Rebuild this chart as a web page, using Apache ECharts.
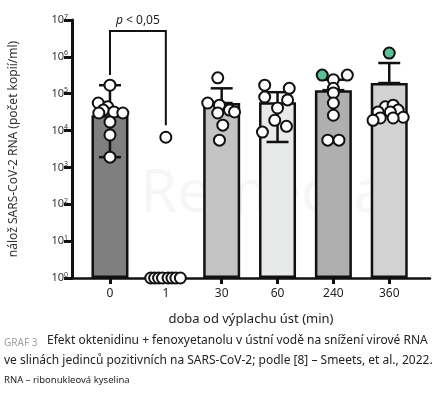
<!DOCTYPE html>
<html><head><meta charset="utf-8">
<script src="https://cdn.jsdelivr.net/npm/echarts@6/dist/echarts.min.js"></script>
<style>html,body{margin:0;padding:0;background:#fff}#c{width:435px;height:393px}</style>
</head><body><div id="c"></div>
<script>
var categories = ['0', '1', '30', '60', '240', '360'];
var barValues = [2.6e4, null, 5.6e4, 5.9e4, 1.25e5, 1.95e5];
var errLow = [1.9e3, null, 5.6e4, 4.9e3, 1.25e5, 1.95e5];
var errHigh = [1.7e5, null, 1.4e5, 1.1e5, 2.4e5, 6.8e5];
var points0 = [1.7e5, 5.6e4, 4.4e4, 3.6e4, 3.2e4, 3.0e4, 3.0e4, 1.7e4, 7.6e3, 1.9e3];
var jitter0 = [0, -0.21, -0.04, -0.12, 0.07, 0.23, -0.2, 0, 0, 0];
var points1 = [1, 1, 1, 1, 1, 1, 1, 1, 6.6e3];
var jitter1 = [-0.27, -0.2, -0.13, -0.06, 0.04, 0.11, 0.18, 0.26, 0];
var points30 = [2.7e5, 5.6e4, 4.9e4, 3.6e4, 3.0e4, 3.2e4, 1.4e4, 5.5e3];
var jitter30 = [-0.07, -0.25, -0.04, 0.14, -0.07, 0.23, 0.02, -0.04];
var points60 = [1.7e5, 1.4e5, 8.1e4, 6.8e4, 4.1e4, 1.9e4, 1.3e4, 9.1e3];
var jitter60 = [-0.23, 0.21, -0.23, 0.18, 0, -0.05, 0.16, -0.27];
var points240 = [3.2e5, 2.4e5, 1.4e5, 1.05e5, 5.6e4, 2.6e4, 5.5e3, 5.5e3];
var jitter240 = [0.25, 0, 0, 0, 0, 0, -0.1, 0.1];
var points360 = [4.4e4, 4.9e4, 3.6e4, 3.2e4, 3.2e4, 2.3e4, 2.2e4, 2.2e4, 1.9e4];
var jitter360 = [-0.07, 0.07, 0.16, -0.2, 0.02, 0.25, -0.16, 0.07, -0.29];
var greenPoints = [[4, 3.2e5], [5, 1.27e6]];
var greenJitter = [-0.2, 0];
var bracketLegs = [3.2e5, 5e6, 1.4e4];
var pText = ' < 0,05';
var yTicks = [1, 10, 100, 1e3, 1e4, 1e5, 1e6, 1e7];
var yName = 'nálož SARS-CoV-2 RNA (počet kopií/ml)';
var xName = 'doba od výplachu úst (min)';
var captionLabel = 'GRAF 3';
var captionLine1 = 'Efekt oktenidinu + fenoxyetanolu v ústní vodě na snížení virové RNA';
var captionLine2 = 've slinách jedinců pozitivních na SARS-CoV-2; podle [8] – Smeets, et al., 2022.';
var captionLine3 = 'RNA – ribonukleová kyselina';
var watermark = 'Remedia';

var barColors = ['#7f7f7f', '#ffffff', '#c3c3c3', '#e8e9e9', '#afafaf', '#d2d2d2'];
var FONT = 'Noto Sans';
var X0 = 0.68;   // left padding of the category scale, so the value axis starts at 0
var XMAX = 6.41;

var allPts = [points0, points1, points30, points60, points240, points360];
var allJit = [jitter0, jitter1, jitter30, jitter60, jitter240, jitter360];
var whitePts = [];
allPts.forEach(function (arr, ci) {
  arr.forEach(function (v, k) { whitePts.push([X0 + ci + allJit[ci][k], v]); });
});
var greenData = greenPoints.map(function (p, i) { return [X0 + p[0] + greenJitter[i], p[1]]; });

var barData = [];
categories.forEach(function (c, i) { if (barValues[i] != null) barData.push({ value: [X0 + i, barValues[i]], itemStyle: { color: barColors[i] } }); });
var errData = [];
categories.forEach(function (c, i) { if (errHigh[i] != null) errData.push([X0 + i, errLow[i], errHigh[i]]); });
var catPos = categories.map(function (c, i) { return X0 + i; });

var chart = echarts.init(document.getElementById('c'), null, { renderer: 'canvas' });
chart.setOption({
  animation: false,
  backgroundColor: '#fff',
  textStyle: { fontFamily: FONT },
  grid: { left: 71, right: 5, top: 20, bottom: 115, containLabel: false },
  xAxis: {
    type: 'value', min: 0, max: XMAX,
    name: xName, nameLocation: 'middle', nameGap: 35,
    nameTextStyle: { fontSize: 13, color: '#222', fontFamily: FONT },
    axisLine: { show: true, lineStyle: { color: '#111', width: 2.5 } },
    axisTick: { show: true, length: 6, lineStyle: { color: '#111', width: 3 }, customValues: catPos },
    axisLabel: { customValues: catPos, formatter: function (v) { return categories[Math.round(v - X0)]; }, fontSize: 12, color: '#222', margin: 10 },
    splitLine: { show: false }
  },
  yAxis: {
    type: 'log', logBase: 10, min: 1, max: 1e7, position: 'left',
    name: yName, nameLocation: 'middle', nameGap: 52, nameRotate: 90,
    nameTextStyle: { fontSize: 12, color: '#333', fontFamily: FONT },
    axisLine: { show: true, lineStyle: { color: '#111', width: 3 } },
    axisTick: { show: true, length: 8, lineStyle: { color: '#111', width: 3 }, customValues: yTicks },
    axisLabel: {
      customValues: yTicks, margin: 4,
      formatter: function (v) { return '{b|10}{s|' + Math.round(Math.log10(v)) + '}'; },
      rich: {
        b: { fontSize: 11, color: '#333', fontFamily: FONT },
        s: { fontSize: 7, color: '#333', fontFamily: FONT, padding: [0, 0, 7, 0] }
      }
    },
    splitLine: { show: false }
  },
  graphic: [
    { type: 'text', left: 140, top: 165, z: 0, silent: true, style: { text: watermark, fontSize: 60, fontFamily: FONT, fill: 'rgba(0,0,0,0.035)' } },
    { type: 'text', left: 4, top: 338, style: { text: captionLabel, fontSize: 10, fill: '#a0a0a0', fontFamily: FONT } },
    { type: 'text', left: 47, top: 335, style: { text: captionLine1, fontSize: 12, fill: '#222', fontFamily: FONT } },
    { type: 'text', left: 4, top: 355, style: { text: captionLine2, fontSize: 12, fill: '#222', fontFamily: FONT } },
    { type: 'text', left: 4, top: 375, style: { text: captionLine3, fontSize: 9.5, fill: '#222', fontFamily: FONT } }
  ],
  series: [
    { type: 'bar', data: barData, barWidth: 37, z: 2,
      itemStyle: { borderColor: '#111', borderWidth: 2.5 } },
    { type: 'custom', z: 3, data: errData,
      renderItem: function (params, api) {
        var x = api.value(0);
        var lo = api.coord([x, api.value(1)]);
        var hi = api.coord([x, api.value(2)]);
        var hw = 11;
        return { type: 'group', children: [
          { type: 'line', shape: { x1: lo[0], y1: lo[1], x2: hi[0], y2: hi[1] }, style: { stroke: '#111', lineWidth: 2.5 } },
          { type: 'line', shape: { x1: hi[0] - hw, y1: hi[1], x2: hi[0] + hw, y2: hi[1] }, style: { stroke: '#111', lineWidth: 2.5 } },
          { type: 'line', shape: { x1: lo[0] - hw, y1: lo[1], x2: lo[0] + hw, y2: lo[1] }, style: { stroke: '#111', lineWidth: 2.5 } }
        ] };
      } },
    { type: 'custom', z: 3, data: [[X0, X0 + 1, bracketLegs[0], bracketLegs[1], bracketLegs[2]]],
      renderItem: function (params, api) {
        var a = api.coord([api.value(0), api.value(2)]);
        var b = api.coord([api.value(0), api.value(3)]);
        var c = api.coord([api.value(1), api.value(3)]);
        var d = api.coord([api.value(1), api.value(4)]);
        return { type: 'group', children: [
          { type: 'polyline', shape: { points: [a, b, c, d] }, style: { stroke: '#111', lineWidth: 2, fill: null } },
          { type: 'text', x: (b[0] + c[0]) / 2, y: b[1] - 5,
            style: { rich: { i: { fontStyle: 'italic', fontSize: 12, fill: '#222', fontFamily: FONT }, n: { fontSize: 12, fill: '#222', fontFamily: FONT } },
              text: '{i|p}{n|' + pText + '}', align: 'center', verticalAlign: 'bottom' } }
        ] };
      } },
    { type: 'scatter', z: 5, data: whitePts, symbol: 'circle', symbolSize: 11,
      itemStyle: { color: '#fff', borderColor: '#111', borderWidth: 2, opacity: 1 } },
    { type: 'scatter', z: 6, data: greenData, symbol: 'circle', symbolSize: 11,
      itemStyle: { color: '#5dbf97', borderColor: '#111', borderWidth: 2, opacity: 1 } }
  ]
});
</script></body></html>
